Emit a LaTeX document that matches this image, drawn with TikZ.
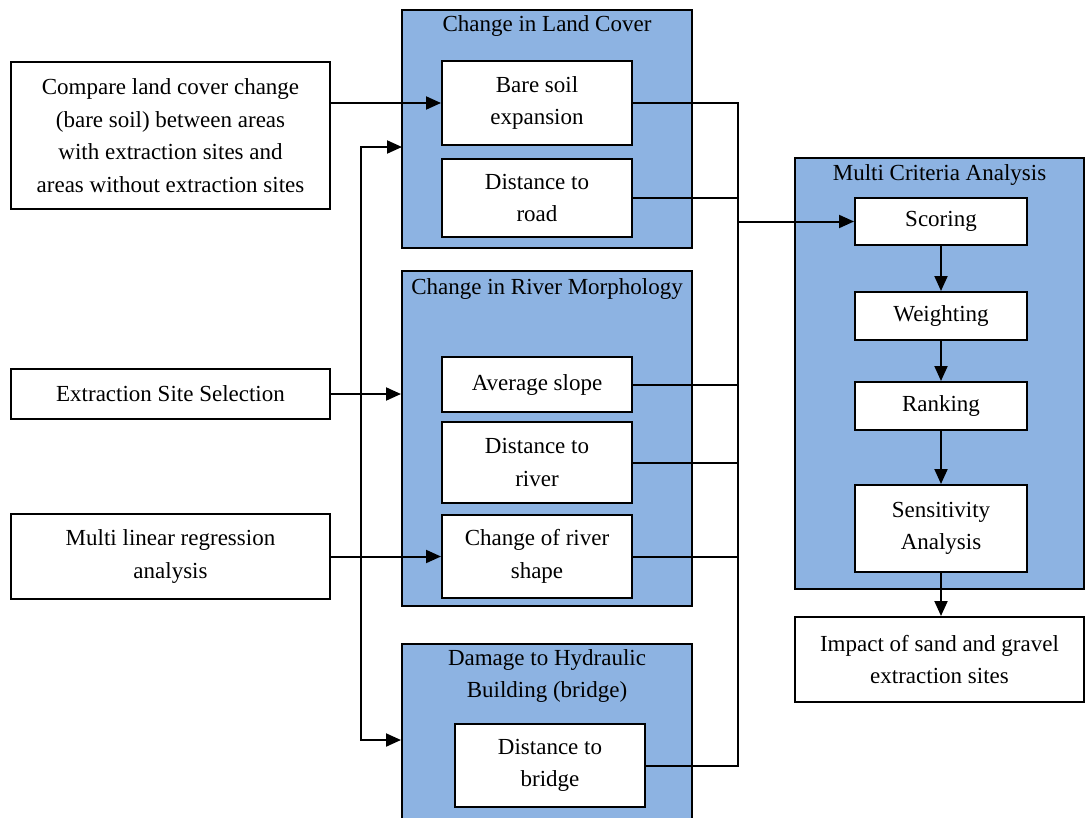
\documentclass[tikz,border=0pt]{standalone}
\usepackage{fontspec}
\setmainfont{Liberation Serif}
\usetikzlibrary{arrows.meta}
\definecolor{grpblau}{HTML}{8DB3E2}
\begin{document}
\begin{tikzpicture}[x=1pt,y=-1pt,line width=2pt,
	kasten/.style={draw,fill=white,align=center,inner sep=0pt,font=\fontsize{23}{32.5}\selectfont},
	gruppe/.style={draw,fill=grpblau,inner sep=0pt},
	titel/.style={align=center,inner sep=0pt,font=\fontsize{23}{32.5}\selectfont},
	pfeil/.style={-{Triangle[length=15pt,width=13pt]}}]
	\useasboundingbox (0,0) rectangle (1086,817);
	%\draw[step=50,gray!30] (0,0) grid (1086,817); %Hilfsgitter
	% Gruppen
	\node[gruppe,minimum width=290,minimum height=238] (lc) at (547,129) {};
	\node[gruppe,minimum width=290,minimum height=335] (rm) at (547,438.5) {};
	\node[gruppe,minimum width=290,minimum height=192] (dh) at (547,740) {};
	\node[gruppe,minimum width=289,minimum height=431] (mca) at (939.5,373.5) {};
	\node[titel] (lct) at (547,26) {Change in Land Cover};
	\node[titel] (rmt) at (547,289) {Change in River Morphology};
	\node[titel] (dht) at (547,676) {Damage to Hydraulic\\Building (bridge)};
	\node[titel] (mcat) at (939.5,175) {Multi Criteria Analysis};
	% linke Kaesten
	\node[kasten,minimum width=319,minimum height=147] (compare) at (170.5,135.5) {Compare land cover change\\(bare soil) between areas\\with extraction sites and\\areas without extraction sites};
	\node[kasten,minimum width=319,minimum height=50] (extr) at (170.5,394) {Extraction Site Selection};
	\node[kasten,minimum width=319,minimum height=85] (regr) at (170.5,556.5) {Multi linear regression\\analysis};
	% Kriterien
	\node[kasten,minimum width=190,minimum height=84] (bare) at (537,103) {Bare soil\\expansion};
	\node[kasten,minimum width=190,minimum height=78] (road) at (537,198) {Distance to\\road};
	\node[kasten,minimum width=190,minimum height=55] (slope) at (537,384.5) {Average slope};
	\node[kasten,minimum width=190,minimum height=81] (river) at (537,462.5) {Distance to\\river};
	\node[kasten,minimum width=190,minimum height=83] (shape) at (537,556.5) {Change of river\\shape};
	\node[kasten,minimum width=190,minimum height=83] (bridge) at (550,765.5) {Distance to\\bridge};
	% MCA
	\node[kasten,minimum width=172,minimum height=47] (scoring) at (941,221.5) {Scoring};
	\node[kasten,minimum width=172,minimum height=48] (weighting) at (941,316) {Weighting};
	\node[kasten,minimum width=172,minimum height=48] (ranking) at (941,406) {Ranking};
	\node[kasten,minimum width=172,minimum height=87] (sens) at (941,528.5) {Sensitivity\\Analysis};
	\node[kasten,minimum width=289,minimum height=85] (impact) at (939.5,659.5) {Impact of sand and gravel\\extraction sites};
	% Verbindungen links
	\coordinate (vl) at (361,0); \coordinate (lcin) at (402,147);
	\draw[pfeil] (bare.west -| compare.east) -- (bare.west);
	\draw[pfeil] (shape.west -| regr.east) -- (shape.west);
	\draw[pfeil] (extr.east) -- (extr.east -| rm.west);
	\draw[pfeil] (vl |- extr.east) |- (lcin);
	\draw[pfeil] (vl |- extr.east) |- (dh.west);
	% Sammelleitung rechts
	\coordinate (sl) at (738,0);
	\draw (bare.east) -- (bare.east -| sl) -- (bridge.east -| sl) -- (bridge.east);
	\foreach \k in {road,slope,river,shape} \draw (\k.east) -- (\k.east -| sl);
	\draw[pfeil] (scoring.west -| sl) -- (scoring.west);
	\foreach \a/\b in {scoring/weighting,weighting/ranking,ranking/sens} \draw[pfeil] (\a) -- (\b);
	\draw[pfeil] (sens.south) -- (sens.south |- impact.north);
\end{tikzpicture}
\end{document}
